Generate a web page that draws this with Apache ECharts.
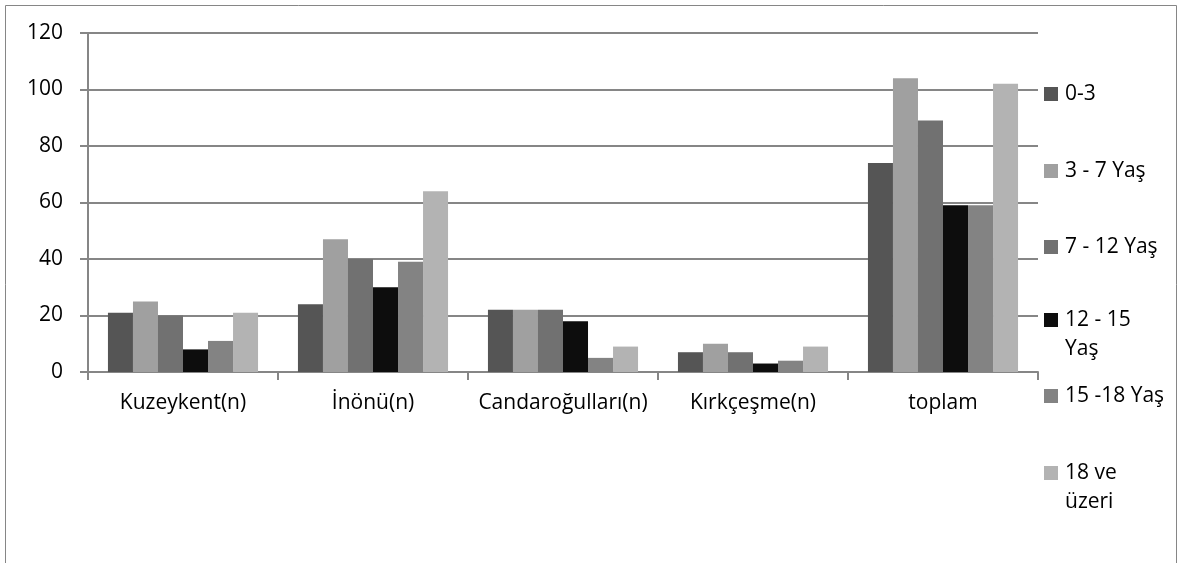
<!DOCTYPE html>
<html>
<head>
<meta charset="utf-8">
<script src="https://cdn.jsdelivr.net/npm/echarts@6/dist/echarts.min.js"></script>
<style>html,body{margin:0;padding:0;background:#fff}#c{width:1184px;height:563px}</style>
</head>
<body>
<div id="c"></div>
<script>
var categories = ['Kuzeykent(n)', 'İnönü(n)', 'Candaroğulları(n)', 'Kırkçeşme(n)', 'toplam'];
var seriesNames = ['0-3', '3 - 7 Yaş', '7 - 12 Yaş', '12 - 15 Yaş', '15 -18 Yaş', '18 ve üzeri'];
var v0_3 = [21, 24, 22, 7, 74];
var v3_7 = [25, 47, 22, 10, 104];
var v7_12 = [20, 40, 22, 7, 89];
var v12_15 = [8, 30, 18, 3, 59];
var v15_18 = [11, 39, 5, 4, 59];
var v18 = [21, 64, 9, 9, 102];
var yTicks = [0, 20, 40, 60, 80, 100, 120];

var values = [v0_3, v3_7, v7_12, v12_15, v15_18, v18];
var colors = ['#555555', '#a0a0a0', '#717171', '#0d0d0d', '#838383', '#b3b3b3'];
var legendLines = [['0-3'], ['3 - 7 Yaş'], ['7 - 12 Yaş'], ['12 - 15', 'Yaş'], ['15 -18 Yaş'], ['18 ve', 'üzeri']];
var legendCenters = [94, 171, 247, 320, 396, 473];
var FONT = 'Open Sans';
var FS = 21;
var axisGray = '#868686';

var series = seriesNames.map(function (n, i) {
  return {
    name: n, type: 'bar', data: values[i],
    barGap: '0%', barCategoryGap: '21%',
    itemStyle: { color: colors[i] },
    emphasis: { disabled: true }
  };
});

var legends = [];
var graphics = [{
  type: 'rect', shape: { x: 5.5, y: 5.5, width: 1171, height: 620 },
  style: { fill: 'none', stroke: axisGray, lineWidth: 1 }, silent: true, z: -1
}];
seriesNames.forEach(function (n, i) {
  legends.push({
    data: [n], orient: 'vertical', left: 1044, top: legendCenters[i] - 13,
    itemWidth: 14, itemHeight: 14, itemGap: 0, icon: 'rect', padding: 0,
    formatter: function () { return legendLines[i][0]; },
    textStyle: { fontFamily: FONT, fontSize: FS, color: '#000', padding: [0, 0, 0, 2], lineHeight: 26 },
    selectedMode: false
  });
  if (legendLines[i].length > 1) {
    graphics.push({
      type: 'text', left: 1065, top: legendCenters[i] + 31 - 12,
      style: { text: legendLines[i][1], fontFamily: FONT, fontSize: FS, fill: '#000' }
    });
  }
});

var chart = echarts.init(document.getElementById('c'));
chart.setOption({
  animation: false,
  backgroundColor: '#fff',
  grid: { left: 88, right: 146, top: 33, bottom: 191, containLabel: false },
  legend: legends,
  graphic: graphics,
  xAxis: {
    type: 'category', data: categories,
    axisLine: { lineStyle: { color: axisGray, width: 2 } },
    axisTick: { show: true, length: 8, alignWithLabel: false, lineStyle: { color: axisGray, width: 2 } },
    axisLabel: { fontFamily: FONT, fontSize: FS, color: '#000', margin: 21, interval: 0 }
  },
  yAxis: {
    type: 'value', min: 0, max: 120, interval: 20,
    axisLine: { show: true, lineStyle: { color: axisGray, width: 2 } },
    axisTick: { show: true, length: 8, lineStyle: { color: axisGray, width: 2 } },
    splitLine: { lineStyle: { color: axisGray, width: 2 } },
    axisLabel: { fontFamily: FONT, fontSize: FS, color: '#000', margin: 25,
      formatter: function (v) { return yTicks.indexOf(v) >= 0 ? String(v) : ''; } }
  },
  series: series
});
</script>
</body>
</html>
